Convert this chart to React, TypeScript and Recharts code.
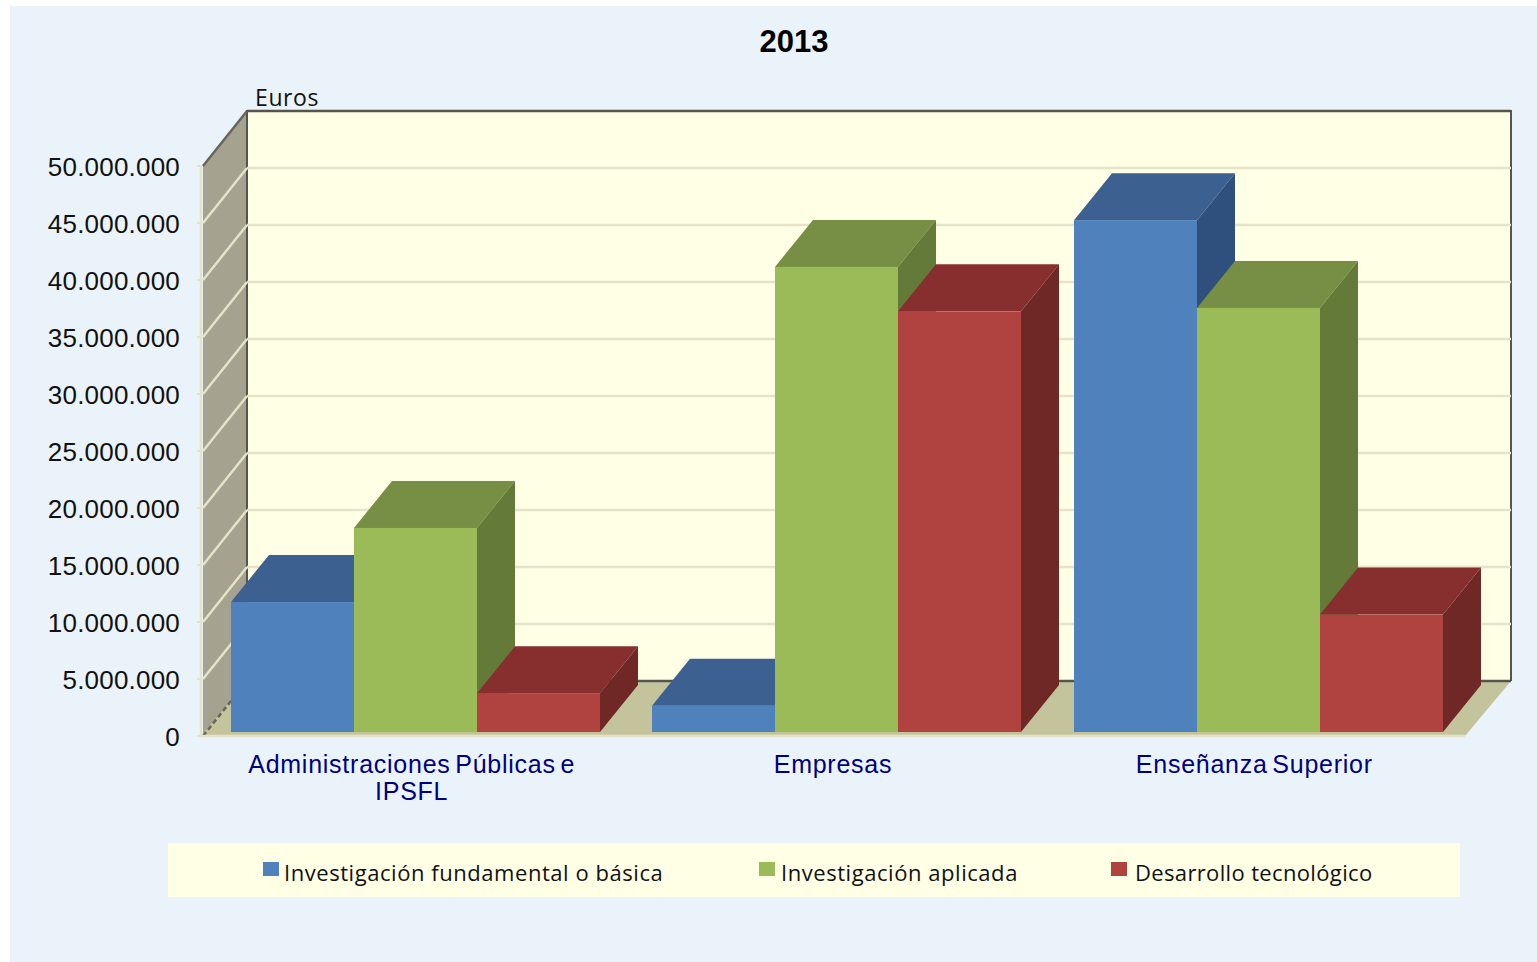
import { Bar, BarChart, CartesianGrid, Customized, Legend, XAxis, YAxis } from "recharts";

const categories = ["Administraciones Públicas e IPSFL", "Empresas", "Enseñanza Superior"];
const basica = [11400000, 2300000, 44900000];
const aplicada = [17900000, 40800000, 37200000];
const desarrollo = [3400000, 36900000, 10300000];
const yTicks = [0, 5000000, 10000000, 15000000, 20000000, 25000000, 30000000, 35000000, 40000000, 45000000, 50000000];

const rows = categories.map((name, i) => ({
  name,
  basica: basica[i],
  aplicada: aplicada[i],
  desarrollo: desarrollo[i],
}));

// plot area on the page, and how far the "3D" back wall is pushed
const LEFT = 201;
const RIGHT = 1465;
const TOP = 166;
const BOTTOM = 736;
const WALL_DX = 46;
const WALL_DY = 55;
const BAR_DX = 38;
const BAR_DY = 47;
const SET_BACK = 4;
const LEGEND_H = 54;
const DARK = "#55554c";
const PALE = "#e5e3c8";

const formatEuros = (v: number) => String(v).replace(/\B(?=(\d{3})+(?!\d))/g, ".");

// sits under the chart svg so the grid lines stay on top of it
function Walls() {
  return (
    <svg width={1537} height={962} style={{ position: "absolute", left: 0, top: 0 }}>
      <polygon
        points={`${LEFT + 2},${TOP} ${LEFT + WALL_DX},${TOP - WALL_DY} ${LEFT + WALL_DX},${BOTTOM - WALL_DY} ${LEFT + 2},${BOTTOM}`}
        fill="#a5a390"
      />
      <rect
        x={LEFT + WALL_DX}
        y={TOP - WALL_DY}
        width={RIGHT - LEFT}
        height={BOTTOM - TOP}
        fill="#ffffe6"
      />
      <polygon
        points={`${LEFT},${BOTTOM} ${LEFT + WALL_DX},${BOTTOM - WALL_DY} ${RIGHT + WALL_DX},${BOTTOM - WALL_DY} ${RIGHT},${BOTTOM}`}
        fill="#c3c49b"
      />
      <polyline
        points={`${LEFT + WALL_DX},${BOTTOM - WALL_DY} ${LEFT + WALL_DX},${TOP - WALL_DY} ${RIGHT + WALL_DX},${TOP - WALL_DY} ${RIGHT + WALL_DX},${BOTTOM - WALL_DY}`}
        fill="none"
        stroke={DARK}
        strokeWidth={2}
      />
    </svg>
  );
}

function Titles() {
  return (
    <g>
      <text x={794} y={52} textAnchor="middle" fontFamily="Liberation Sans" fontWeight="bold" fontSize={31} fill="#000">
        2013
      </text>
      <text x={255} y={106} fontFamily="Open Sans" fontSize={23} letterSpacing={0.6} fill="#111">
        Euros
      </text>
    </g>
  );
}

function GridLine(props: any) {
  const { x1, x2, y1 } = props;
  const isFloor = Math.abs(y1 - BOTTOM) < 1;
  const isTop = Math.abs(y1 - TOP) < 1;
  return (
    <g fill="none" strokeWidth={2.5}>
      <line
        x1={x1 + 2}
        y1={y1}
        x2={x1 + WALL_DX}
        y2={y1 - WALL_DY}
        stroke={isFloor || isTop ? "#66665c" : PALE}
        strokeDasharray={isFloor ? "5 3" : undefined}
      />
      <line
        x1={x1 + WALL_DX}
        y1={y1 - WALL_DY}
        x2={x2 + WALL_DX}
        y2={y1 - WALL_DY}
        stroke={isFloor || isTop ? DARK : PALE}
      />
    </g>
  );
}

function box(front: string, top: string, side: string) {
  return (props: any) => {
    const { x, y, width, height } = props;
    const l = Math.round(x + SET_BACK);
    const r = Math.round(x + SET_BACK + width);
    const t = y - SET_BACK;
    const b = t + height;
    return (
      <g>
        <polygon points={`${l},${t} ${l + BAR_DX},${t - BAR_DY} ${r + BAR_DX},${t - BAR_DY} ${r},${t}`} fill={top} />
        <polygon points={`${r},${t} ${r + BAR_DX},${t - BAR_DY} ${r + BAR_DX},${b - BAR_DY} ${r},${b}`} fill={side} />
        <rect x={l} y={t} width={r - l} height={height} fill={front} />
      </g>
    );
  };
}

function CategoryTick(props: any) {
  const { x, y, payload } = props;
  const words = String(payload.value).split(" ");
  const lines = words.length > 3 ? [words.slice(0, 3).join(" "), words.slice(3).join(" ")] : [words.join(" ")];
  return (
    <text
      x={x}
      y={y + 2}
      textAnchor="middle"
      fontFamily="Liberation Sans"
      fontSize={25}
      fill="#00007f"
      letterSpacing={0.75}
      wordSpacing={-3}
    >
      {lines.map((line, i) => (
        <tspan key={line} x={x} dy={i === 0 ? 0 : 27}>
          {line}
        </tspan>
      ))}
    </text>
  );
}

const legendLefts = [95, 591, 943];
const legendGaps = [5, 6, 8];
const legendSpacing = [0.55, 0.55, 0.35];

function LegendBox(props: any) {
  return (
    <div style={{ position: "relative", width: 1292, height: LEGEND_H, background: "#ffffe6" }}>
      {(props.payload || []).map((item: any, i: number) => (
        <div
          key={item.value}
          style={{
            position: "absolute",
            left: legendLefts[i],
            top: 2,
            height: LEGEND_H,
            display: "flex",
            alignItems: "center",
            fontFamily: "Open Sans",
            fontSize: 22,
            letterSpacing: legendSpacing[i],
            color: "#111",
            whiteSpace: "nowrap",
          }}
        >
          <span style={{ width: 16, height: 14, background: item.color, marginRight: legendGaps[i], marginTop: -6 }} />
          {item.value}
        </div>
      ))}
    </div>
  );
}

export default function App() {
  return (
    <div style={{ position: "absolute", left: 0, top: 0, width: 1537, height: 962, background: "#fff", overflow: "hidden" }}>
      <div style={{ position: "absolute", left: 10, top: 6, right: 0, bottom: 0, background: "#ebf3fa" }} />
      <Walls />
      <div style={{ position: "absolute", left: 0, top: 0 }}>
        <BarChart
          width={1537}
          height={962}
          data={rows}
          margin={{ top: TOP, right: 1537 - RIGHT, bottom: 0, left: 0 }}
          barSize={123}
          barGap={0}
        >
          <CartesianGrid vertical={false} horizontal={GridLine} />
          <Customized component={Titles} />
          <XAxis
            dataKey="name"
            height={962 - BOTTOM - LEGEND_H}
            axisLine={{ stroke: PALE, strokeWidth: 2.5 }}
            tickLine={false}
            tick={CategoryTick}
            tickMargin={29}
            interval={0}
          />
          <YAxis
            width={LEFT}
            domain={[0, 50000000]}
            ticks={yTicks}
            tickFormatter={formatEuros}
            axisLine={{ stroke: PALE, strokeWidth: 2.5 }}
            tickLine={{ stroke: PALE, strokeWidth: 2 }}
            tickSize={4}
            tickMargin={17}
            tick={{ fontFamily: "Liberation Sans", fontSize: 26, fill: "#111", letterSpacing: 0.2, dy: 1 }}
            interval={0}
          />
          <Legend
            content={LegendBox}
            itemSorter={null}
            wrapperStyle={{ position: "absolute", left: 168, top: 843, width: 1292, height: LEGEND_H }}
          />
          <Bar dataKey="basica" name="Investigación fundamental o básica" fill="#4f81bd" isAnimationActive={false} shape={box("#4f81bd", "#3c6090", "#2f4f7c")} />
          <Bar dataKey="aplicada" name="Investigación aplicada" fill="#9bbb59" isAnimationActive={false} shape={box("#9bbb59", "#778f44", "#637a38")} />
          <Bar dataKey="desarrollo" name="Desarrollo tecnológico" fill="#b04340" isAnimationActive={false} shape={box("#b04340", "#872f2e", "#702826")} />
        </BarChart>
      </div>
    </div>
  );
}
